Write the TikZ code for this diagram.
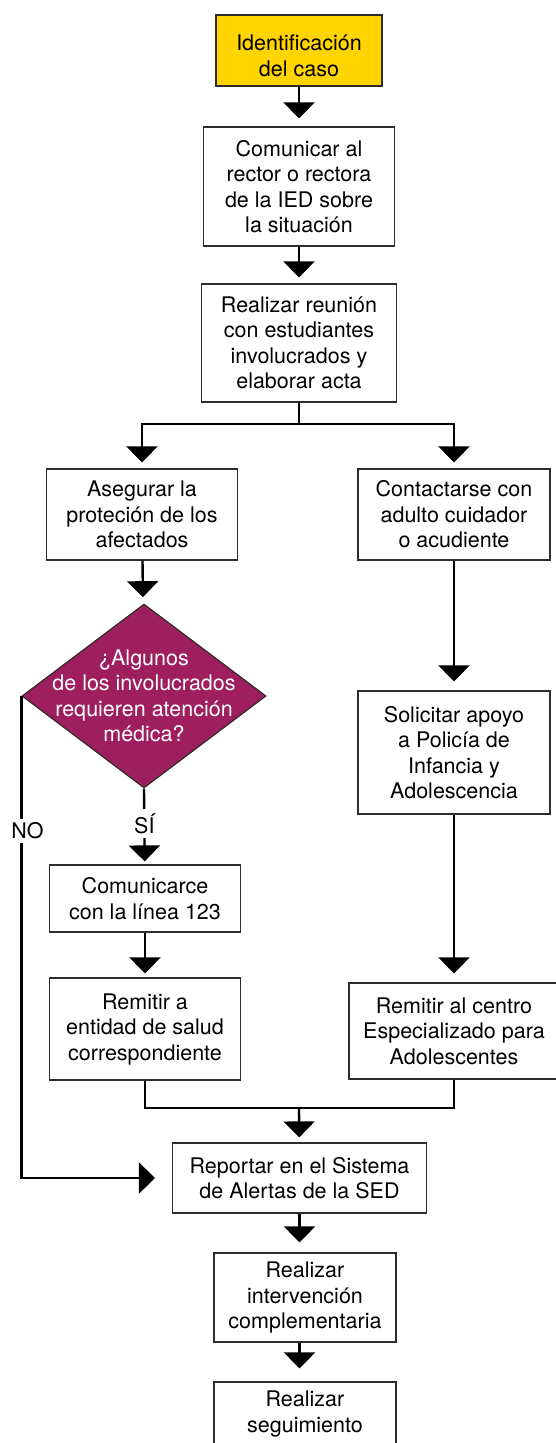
\documentclass[tikz,border=0pt]{standalone}
\usepackage{fontspec}
\setmainfont{TeX Gyre Heros}
\usetikzlibrary{arrows.meta,shapes.geometric}
\definecolor{caso}{RGB}{255,212,0}
\definecolor{consulta}{RGB}{158,30,94}
\definecolor{borde}{RGB}{45,45,45}
\tikzset{
  paso/.style={draw=borde, line width=1.2pt, fill=white, align=center, inner sep=2pt,
    font=\fontsize{21.5pt}{25.5pt}\selectfont},
  decision/.style={diamond, draw=borde, line width=1.2pt, fill=consulta, inner sep=0pt},
  rotulo/.style={fill=white, inner sep=4pt, font=\fontsize{21.5pt}{25.5pt}\selectfont},
}

\begin{document}
\begin{tikzpicture}[x=1pt, y=-1pt,
  flow/.style={line width=2.4pt, -{Triangle[width=31pt,length=16pt]}, shorten >=6pt},
  linea/.style={line width=2.4pt}]
\useasboundingbox (0,0) rectangle (556,1443);
\node[paso, fill=caso, minimum width=166pt, minimum height=71pt] (ident) at (299,50.5) {\rule{0pt}{26pt}Identificación\\del caso};
\node[paso, minimum width=191pt, minimum height=119pt] (comunicar) at (299,186.5) {Comunicar al\\rector o rectora\\de la IED sobre\\la situación};
\node[paso, minimum width=195pt, minimum height=118pt] (reunion) at (299,343) {Realizar reunión\\con estudiantes\\involucrados y\\elaborar acta};
\node[paso, minimum width=191pt, minimum height=91pt] (asegurar) at (142,514.5) {Asegurar la\\proteción de los\\afectados};
\node[paso, minimum width=192pt, minimum height=91pt] (contactar) at (454,514.5) {Contactarse con\\adulto cuidador\\o acudiente};
\node[decision, minimum width=244pt, minimum height=184pt,
  label={[text=white, align=center, font=\fontsize{21.5pt}{25.5pt}\selectfont]center:{¿Algunos\\de los involucrados\\requieren atención\\médica?}}] (pregunta) at (144,696) {};
\node[paso, minimum width=192pt, minimum height=123pt] (policia) at (454,752.5) {Solicitar apoyo\\a Policía de\\Infancia y\\Adolescencia};
\node[paso, minimum width=191pt, minimum height=67pt] (llamada) at (145,898.5) {Comunicarce\\con la línea 123};
\node[paso, minimum width=191pt, minimum height=102pt] (salud) at (145,1029) {Remitir a\\entidad de salud\\correspondiente};
\node[paso, minimum width=210pt, minimum height=96pt] (centro) at (454,1031) {Remitir al centro\\Especializado para\\Adolescentes};
\node[paso, minimum width=254pt, minimum height=70pt] (reportar) at (299.5,1178) {Reportar en el Sistema\\de Alertas de la SED};
\node[paso, minimum width=182pt, minimum height=89pt] (intervencion) at (305,1297.5) {Realizar\\intervención\\complementaria};
\node[paso, minimum width=182pt, minimum height=64pt] (seguimiento) at (305,1414) {Realizar\\seguimiento};

\coordinate (reparto) at (299,424);
\coordinate (junta) at (299,1108);

\draw[flow, shorten >=8pt] (ident) -- (comunicar);
\draw[flow] (comunicar) -- (reunion);
\draw[linea] (reunion) -- (reparto);
\draw[flow] (reparto) -| (asegurar);
\draw[flow] (reparto) -| (contactar);
\draw[flow, shorten >=7pt] (asegurar) -- (pregunta);
\draw[flow, shorten >=9pt] (contactar) -- (policia);
\draw[flow, shorten >=3pt] (pregunta.south) -- (llamada) node[rotulo, pos=0.46] {SÍ};
\draw[flow, shorten >=4pt] (llamada) -- (salud);
\draw[flow, shorten >=9pt] (policia) -- (centro);
\draw[linea] (salud.south) |- (junta) -| (centro.south);
\draw[flow, shorten >=5pt] (junta) -- (reportar);
\draw[flow, shorten >=17pt] (pregunta.west) |- (reportar.west) node[rotulo, pos=0.14, xshift=6pt] {NO};
\draw[flow, shorten >=10pt] (reportar.south) -- (reportar.south |- intervencion.north);
\draw[flow, shorten >=13pt] (intervencion.south -| reportar.south) -- (reportar.south |- seguimiento.north);
\end{tikzpicture}
\end{document}
